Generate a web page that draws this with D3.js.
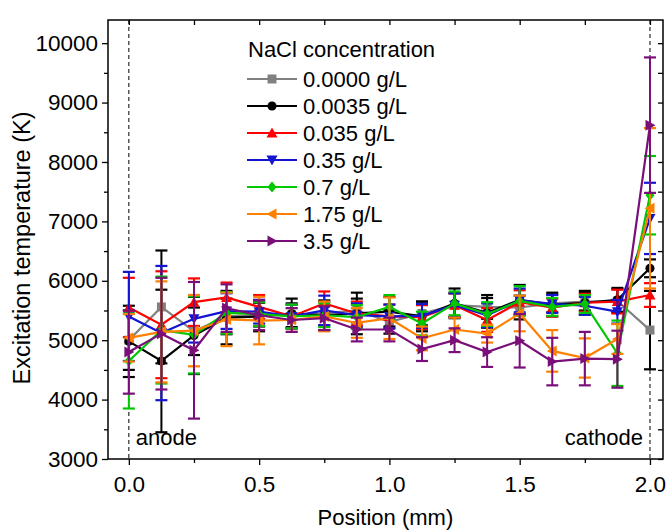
<!DOCTYPE html>
<html>
<head>
<meta charset="utf-8">
<script src="https://cdn.jsdelivr.net/npm/d3@7"></script>
<style>
  body { margin: 0; background: #fff; }
  text { font-family: "Liberation Sans", Arial, sans-serif; }
</style>
</head>
<body>
<div id="wrapper"></div>
<script>
// positions (mm)
const positions = [0, 0.125, 0.25, 0.375, 0.5, 0.625, 0.75, 0.875, 1.0, 1.125, 1.25, 1.375, 1.5, 1.625, 1.75, 1.875, 2.0];

const seriesNames = ["0.0000 g/L", "0.0035 g/L", "0.035 g/L", "0.35 g/L", "0.7 g/L", "1.75 g/L", "3.5 g/L"];

// excitation temperature (K)
const temp0000 = [5000, 5560, 5150, 5400, 5430, 5420, 5450, 5500, 5310, 5450, 5590, 5560, 5550, 5620, 5650, 5660, 5170];
const temp0035 = [4980, 4650, 5080, 5380, 5400, 5450, 5420, 5450, 5480, 5400, 5620, 5460, 5680, 5600, 5630, 5680, 6210];
const temp035  = [5550, 5260, 5640, 5720, 5560, 5400, 5620, 5450, 5400, 5390, 5590, 5340, 5640, 5550, 5630, 5650, 5760];
const temp35   = [5400, 5120, 5360, 5490, 5480, 5400, 5500, 5420, 5400, 5410, 5590, 5420, 5670, 5610, 5580, 5480, 7050];
const temp7    = [4650, 5170, 5090, 5460, 5440, 5400, 5420, 5390, 5560, 5280, 5620, 5440, 5660, 5560, 5610, 4780, 7440];
const temp175  = [5040, 5140, 5160, 5350, 5330, 5340, 5400, 5290, 5370, 5030, 5180, 5110, 5450, 4820, 4700, 5020, 7220];
const temp35b  = [4800, 5110, 4830, 5540, 5420, 5340, 5370, 5180, 5180, 4850, 5000, 4800, 4990, 4640, 4690, 4680, 8620];

// error bars (K)
const err0000 = [500, 950, 400, 300, 200, 200, 200, 200, 200, 200, 200, 200, 200, 150, 150, 200, 660];
const err0035 = [600, 1200, 650, 450, 250, 250, 250, 350, 250, 250, 250, 250, 250, 200, 200, 200, 150];
const err035  = [500, 900, 400, 250, 200, 200, 200, 200, 200, 200, 200, 200, 200, 150, 150, 200, 200];
const err35   = [750, 1130, 400, 300, 200, 200, 250, 200, 200, 200, 200, 200, 200, 150, 150, 200, 600];
const err7    = [800, 900, 650, 350, 200, 200, 200, 200, 200, 200, 200, 200, 250, 150, 150, 550, 660];
const err175  = [400, 850, 600, 450, 400, 200, 250, 250, 350, 200, 200, 150, 300, 350, 330, 250, 1350];
const err35b  = [700, 940, 1150, 400, 250, 200, 200, 200, 200, 200, 200, 250, 450, 400, 450, 480, 1140];

const temps = [temp0000, temp0035, temp035, temp35, temp7, temp175, temp35b];
const errs = [err0000, err0035, err035, err35, err7, err175, err35b];
const colors = ["#808080", "#000000", "#ff0000", "#1414d2", "#00c800", "#ff8000", "#7a0f7a"];
const errColors = ["#000000", "#000000", "#ff0000", "#1414d2", "#00c800", "#ff8000", "#7a0f7a"];
const shapes = ["square", "circle", "up", "down", "diamond", "left", "right"];

const xTicks = [0, 0.5, 1.0, 1.5, 2.0];
const yTicks = [3000, 4000, 5000, 6000, 7000, 8000, 9000, 10000];

const dimensions = {
  width: 668,
  height: 530,
  margins: { top: 20, right: 5, bottom: 71, left: 108 }
};
dimensions.boundedWidth = dimensions.width - dimensions.margins.left - dimensions.margins.right;
dimensions.boundedHeight = dimensions.height - dimensions.margins.top - dimensions.margins.bottom;

const wrapper = d3.select("#wrapper")
  .append("svg")
  .attr("width", dimensions.width)
  .attr("height", dimensions.height);

const bounds = wrapper.append("g")
  .attr("transform", `translate(${dimensions.margins.left},${dimensions.margins.top})`);

const xScale = d3.scaleLinear()
  .domain([-0.08, 2.05])
  .range([0, dimensions.boundedWidth]);

const yScale = d3.scaleLinear()
  .domain([3000, 10390])
  .range([dimensions.boundedHeight, 0]);

// marker path generator
function markerPath(shape, s) {
  const h = s / 2;
  switch (shape) {
    case "square": return `M${-h},${-h}H${h}V${h}H${-h}Z`;
    case "circle": return d3.symbol(d3.symbolCircle, s * s * 0.8)();
    case "up": return `M0,${-h - 1}L${h + 1},${h}L${-h - 1},${h}Z`;
    case "down": return `M0,${h + 1}L${h + 1},${-h}L${-h - 1},${-h}Z`;
    case "diamond": return `M0,${-h - 1}L${h},0L0,${h + 1}L${-h},0Z`;
    case "left": return `M${-h - 1},0L${h},${-h - 1}L${h},${h + 1}Z`;
    case "right": return `M${h + 1},0L${-h},${-h - 1}L${-h},${h + 1}Z`;
  }
}

// dashed electrode lines
[0, 2.0].forEach(p => {
  bounds.append("line")
    .attr("x1", xScale(p)).attr("x2", xScale(p))
    .attr("y1", 0).attr("y2", dimensions.boundedHeight)
    .attr("stroke", "#000")
    .attr("stroke-width", 1)
    .attr("stroke-dasharray", "4,3");
});

// axes
const xAxis = bounds.append("g")
  .attr("transform", `translate(0,${dimensions.boundedHeight})`)
  .call(d3.axisBottom(xScale).tickValues(xTicks).tickFormat(d3.format(".1f")).tickSize(6).tickPadding(11));
bounds.append("g")
  .attr("transform", `translate(0,${dimensions.boundedHeight})`)
  .call(d3.axisBottom(xScale).tickValues([0.25, 0.75, 1.25, 1.75]).tickFormat("").tickSize(4));

const yAxis = bounds.append("g")
  .call(d3.axisLeft(yScale).tickValues(yTicks).tickSize(6).tickPadding(4).tickFormat(d3.format("d")));
bounds.append("g")
  .call(d3.axisLeft(yScale).tickValues(d3.range(3500, 10400, 1000)).tickFormat("").tickSize(4));

// mirror ticks on top and right (inward)
bounds.append("g")
  .call(d3.axisBottom(xScale).tickValues(d3.range(0, 2.01, 0.25)).tickFormat("").tickSize(5));
bounds.append("g")
  .attr("transform", `translate(${dimensions.boundedWidth},0)`)
  .call(d3.axisLeft(yScale).tickValues(d3.range(3000, 10400, 500)).tickFormat("").tickSize(5));

bounds.selectAll(".domain").remove();
bounds.selectAll(".tick line").attr("stroke", "#000").attr("stroke-width", 1.3);
bounds.selectAll(".tick text")
  .attr("fill", "#000")
  .style("font-size", "22.5px");

bounds.append("rect")
  .attr("width", dimensions.boundedWidth)
  .attr("height", dimensions.boundedHeight)
  .attr("fill", "none")
  .attr("stroke", "#000")
  .attr("stroke-width", 1.5);

// axis labels
wrapper.append("text")
  .attr("x", dimensions.margins.left + xScale(1.0) - 4)
  .attr("y", 525)
  .attr("text-anchor", "middle")
  .style("font-size", "22px")
  .text("Position (mm)");

wrapper.append("text")
  .attr("transform", "translate(30,248) rotate(-90)")
  .attr("text-anchor", "middle")
  .style("font-size", "23.5px")
  .text("Excitation temperature (K)");

// electrode labels
bounds.append("text")
  .attr("x", xScale(0) + 7)
  .attr("y", dimensions.boundedHeight - 14)
  .style("font-size", "22px")
  .text("anode");
bounds.append("text")
  .attr("x", xScale(2.0) - 7)
  .attr("y", dimensions.boundedHeight - 14)
  .attr("text-anchor", "end")
  .style("font-size", "22px")
  .text("cathode");

// series
const lineGen = d3.line()
  .x((d, i) => xScale(positions[i]))
  .y(d => yScale(d));

temps.forEach((vals, k) => {
  const g = bounds.append("g");
  // error bars
  vals.forEach((v, i) => {
    const x = xScale(positions[i]);
    const lo = yScale(v - errs[k][i]);
    const hi = yScale(v + errs[k][i]);
    g.append("line").attr("x1", x).attr("x2", x).attr("y1", lo).attr("y2", hi)
      .attr("stroke", errColors[k]).attr("stroke-width", 2);
    [lo, hi].forEach(y => {
      g.append("line").attr("x1", x - 6).attr("x2", x + 6).attr("y1", y).attr("y2", y)
        .attr("stroke", errColors[k]).attr("stroke-width", 2.2);
    });
  });
  g.append("path")
    .datum(vals)
    .attr("d", lineGen)
    .attr("fill", "none")
    .attr("stroke", colors[k])
    .attr("stroke-width", 2.2);
  g.selectAll("path.marker")
    .data(vals)
    .enter()
    .append("path")
    .attr("class", "marker")
    .attr("transform", (d, i) => `translate(${xScale(positions[i])},${yScale(d)})`)
    .attr("d", markerPath(shapes[k], 9))
    .attr("fill", colors[k]);
});

// legend
const legend = wrapper.append("g");
legend.append("text")
  .attr("x", 248)
  .attr("y", 57)
  .style("font-size", "22px")
  .text("NaCl concentration");

seriesNames.forEach((name, k) => {
  const y = 79 + k * 27;
  legend.append("line")
    .attr("x1", 247).attr("x2", 297)
    .attr("y1", y).attr("y2", y)
    .attr("stroke", colors[k])
    .attr("stroke-width", 2.2);
  legend.append("path")
    .attr("transform", `translate(272,${y})`)
    .attr("d", markerPath(shapes[k], 9))
    .attr("fill", colors[k]);
  legend.append("text")
    .attr("x", 303)
    .attr("y", y + 8)
    .style("font-size", "22px")
    .text(name);
});
</script>
</body>
</html>
